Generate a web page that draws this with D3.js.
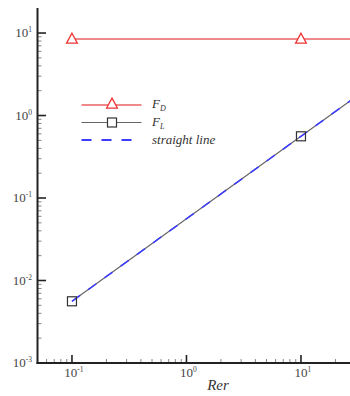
<!DOCTYPE html>
<html><head><meta charset="utf-8">
<script src="https://cdn.jsdelivr.net/npm/d3@7"></script>
<style>body{margin:0;background:#fff}svg{display:block}</style>
</head><body>
<svg id="c" width="350" height="396"></svg>
<script>
const re = [0.1, 10, 100];
const FD = [8.45, 8.45, 8.45];
const FL = [0.0056, 0.56, 5.6];
const straight = [0.0056, 0.56, 5.6];
const xTickExps = [-1, 0, 1];
const yTickExps = [-3, -2, -1, 0, 1];

const svg = d3.select("#c");
const x = d3.scaleLog().domain([0.05, 50]).range([37.5, 381]);
const y = d3.scaleLog().domain([1e-3, 20]).range([363, 8.2]);
const font = "'Liberation Serif','Times New Roman',serif";

// minor ticks
const minorX = [], minorY = [];
for (let e = -2; e <= 1; e++) for (let m = 2; m <= 9; m++) {
  const v = m * Math.pow(10, e);
  if (v > 0.05 && v < 50) minorX.push(v);
}
for (let e = -3; e <= 1; e++) for (let m = 2; m <= 9; m++) {
  const v = m * Math.pow(10, e);
  if (v > 1e-3 && v < 20) minorY.push(v);
}
const ax = svg.append("g").attr("stroke", "#222");
ax.selectAll(".mx").data(minorX).join("line")
  .attr("x1", d => x(d)).attr("x2", d => x(d)).attr("y1", 363).attr("y2", 359).attr("stroke-width", 1).attr("stroke", "#888");
ax.selectAll(".Mx").data(xTickExps).join("line")
  .attr("x1", d => x(Math.pow(10, d))).attr("x2", d => x(Math.pow(10, d))).attr("y1", 363).attr("y2", 355).attr("stroke-width", 1.6);
ax.selectAll(".my").data(minorY).join("line")
  .attr("x1", 37.5).attr("x2", 41.5).attr("y1", d => y(d)).attr("y2", d => y(d)).attr("stroke-width", 1).attr("stroke", "#888");
ax.selectAll(".My").data(yTickExps).join("line")
  .attr("x1", 37.5).attr("x2", 46).attr("y1", d => y(Math.pow(10, d))).attr("y2", d => y(Math.pow(10, d))).attr("stroke-width", 1.6);
ax.append("line").attr("x1", 37.5).attr("x2", 37.5).attr("y1", 8).attr("y2", 364).attr("stroke-width", 2);
ax.append("line").attr("x1", 36.5).attr("x2", 350).attr("y1", 363).attr("y2", 363).attr("stroke-width", 2);

function powLabel(sel, e) {
  sel.append("tspan").text("10");
  sel.append("tspan").attr("font-size", 7.5).attr("dy", -5).text(String(e));
}
svg.selectAll(".yl").data(yTickExps).join("text")
  .attr("x", 32).attr("y", d => y(Math.pow(10, d)) + 4)
  .attr("text-anchor", "end").attr("font-family", font).attr("font-size", 13).attr("fill", "#444")
  .each(function(d){ powLabel(d3.select(this), d); });
svg.selectAll(".xl").data(xTickExps).join("text")
  .attr("x", d => x(Math.pow(10, d)) + 2).attr("y", 377)
  .attr("text-anchor", "middle").attr("font-family", font).attr("font-size", 13).attr("fill", "#444")
  .each(function(d){ powLabel(d3.select(this), d); });
svg.append("text").attr("x", 218).attr("y", 390).attr("text-anchor", "middle")
  .attr("font-family", font).attr("font-style", "italic").attr("font-size", 15).attr("fill", "#333").text("Rer");

const plot = svg.append("g");
const lineFD = d3.line().x((d, i) => x(re[i])).y(d => y(d));
plot.append("path").attr("d", lineFD(FD)).attr("fill", "none").attr("stroke", "#f08a8a").attr("stroke-width", 2);
plot.append("path").attr("d", lineFD(FL)).attr("fill", "none").attr("stroke", "#666").attr("stroke-width", 1.2);
plot.append("path").attr("d", lineFD(straight)).attr("fill", "none").attr("stroke", "#3b3bff").attr("stroke-width", 1.5).attr("stroke-dasharray", "10,10");

function tri(cx, cy, s) {
  return `M${cx},${cy - s * 0.65}L${cx + s * 0.6},${cy + s * 0.45}L${cx - s * 0.6},${cy + s * 0.45}Z`;
}
plot.selectAll(".tri").data(re.slice(0, 2)).join("path")
  .attr("d", (d, i) => tri(x(d), y(FD[i]), 9)).attr("fill", "#fff").attr("stroke", "#e33").attr("stroke-width", 1.3);
plot.selectAll(".sq").data(re.slice(0, 2)).join("rect")
  .attr("x", d => x(d) - 4.5).attr("y", (d, i) => y(FL[i]) - 4.5).attr("width", 9).attr("height", 9)
  .attr("fill", "none").attr("stroke", "#333").attr("stroke-width", 1.2);

// legend
const lg = svg.append("g");
lg.append("line").attr("x1", 81.5).attr("x2", 141.5).attr("y1", 105).attr("y2", 105).attr("stroke", "#f08a8a").attr("stroke-width", 2);
lg.append("path").attr("d", tri(112, 104, 9)).attr("fill", "#fff").attr("stroke", "#e33").attr("stroke-width", 1.3);
lg.append("line").attr("x1", 81.5).attr("x2", 141.5).attr("y1", 122.5).attr("y2", 122.5).attr("stroke", "#666").attr("stroke-width", 1.2);
lg.append("rect").attr("x", 107.5).attr("y", 118).attr("width", 9).attr("height", 9).attr("fill", "#fff").attr("stroke", "#333").attr("stroke-width", 1.2);
lg.append("line").attr("x1", 81.5).attr("x2", 141.5).attr("y1", 140).attr("y2", 140).attr("stroke", "#3b3bff").attr("stroke-width", 1.8).attr("stroke-dasharray", "10,10");
const t1 = lg.append("text").attr("x", 152).attr("y", 108).attr("font-family", font).attr("font-style", "italic").attr("font-size", 13).attr("fill", "#333");
t1.append("tspan").text("F");
t1.append("tspan").attr("font-size", 8).attr("dy", 3).text("D");
const t2 = lg.append("text").attr("x", 152).attr("y", 126).attr("font-family", font).attr("font-style", "italic").attr("font-size", 13).attr("fill", "#333");
t2.append("tspan").text("F");
t2.append("tspan").attr("font-size", 8).attr("dy", 3).text("L");
lg.append("text").attr("x", 152).attr("y", 144).attr("font-family", font).attr("font-style", "italic").attr("font-size", 13).attr("fill", "#333").text("straight line");
</script>
</body></html>
